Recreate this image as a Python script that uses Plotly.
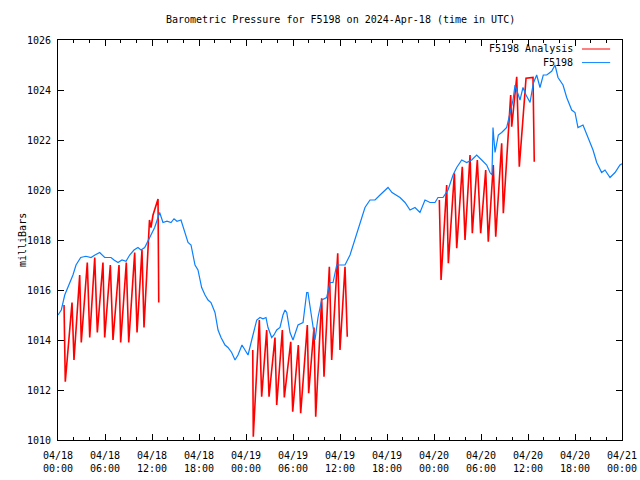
import plotly.graph_objects as go

# ---- data (hours since 2024-04-18 00:00 UTC) ----
blue_hours = [0.00, 0.42, 0.86, 1.28, 1.91, 2.30, 2.90, 3.57, 4.21, 4.72, 5.32, 5.96, 6.77, 7.15, 7.66,
              8.17, 8.68, 9.15, 9.70, 10.21, 10.60, 11.07, 11.71, 12.34, 12.98, 13.40, 13.91, 14.43,
              14.81, 15.19, 15.70, 16.09, 16.60, 16.98, 17.49, 17.87, 18.34, 18.77, 19.15, 19.53,
              20.04, 20.43, 20.81, 21.32, 21.70, 22.17, 22.60, 22.98, 23.49, 23.87, 24.26, 24.73,
              25.02, 25.37, 25.79, 26.17, 26.55, 26.81, 27.28, 27.57, 27.92, 28.34, 28.72, 28.98,
              29.20, 29.62, 30.00, 30.32, 30.64, 31.28, 31.75, 31.91, 32.39, 32.81, 33.19, 33.66,
              34.30, 34.72, 35.11, 35.58, 36.13, 36.64, 37.28, 37.91, 38.55, 39.19, 39.83, 40.47,
              41.11, 41.74, 42.13, 42.64, 43.15, 43.66, 44.30, 44.94, 45.57, 46.21, 46.85, 47.49,
              48.13, 48.51, 49.15, 49.79, 50.43, 50.90, 51.54, 52.17, 52.81, 53.45, 54.09, 54.73,
              55.15, 55.40, 55.53, 55.79, 56.21, 56.64, 57.28, 57.70, 58.09, 58.34, 58.56, 58.98,
              59.36, 59.75, 60.26, 60.68, 61.11, 61.53, 61.95, 62.39, 63.02, 63.45, 63.83, 64.47,
              64.94, 65.58, 66.00, 66.38, 67.02, 67.66, 68.30, 68.77, 69.40, 69.83, 70.47, 71.11,
              71.49, 71.74, 72.00]
blue_mb = [1015.0, 1015.2, 1015.8, 1016.1, 1016.6, 1017.0, 1017.3, 1017.35, 1017.3, 1017.4, 1017.5,
           1017.3, 1017.3, 1017.2, 1017.1, 1017.2, 1017.15, 1017.4, 1017.6, 1017.7, 1017.6, 1017.7,
           1018.1, 1018.5, 1019.1, 1018.7, 1018.75, 1018.7, 1018.85, 1018.75, 1018.8, 1018.4, 1017.9,
           1017.8, 1017.0, 1016.8, 1016.1, 1015.8, 1015.6, 1015.5, 1015.1, 1014.4, 1014.1, 1013.8,
           1013.7, 1013.5, 1013.2, 1013.4, 1013.8, 1013.6, 1013.4, 1014.0, 1014.4, 1014.8, 1014.9,
           1014.85, 1014.9, 1014.5, 1014.1, 1014.2, 1014.4, 1014.5, 1015.0, 1015.2, 1015.1, 1014.3,
           1014.0, 1014.3, 1014.6, 1014.7, 1015.9, 1015.9, 1014.9, 1014.0, 1014.9, 1015.6, 1015.7,
           1016.3, 1016.3, 1017.0, 1017.0, 1017.0, 1017.4, 1018.0, 1018.7, 1019.3, 1019.6, 1019.6,
           1019.8, 1020.0, 1020.1, 1019.9, 1019.8, 1019.7, 1019.5, 1019.2, 1019.3, 1019.1, 1019.6,
           1019.5, 1019.5, 1019.7, 1019.7, 1020.0, 1020.6, 1020.9, 1021.2, 1021.1, 1021.2, 1021.4,
           1021.2, 1021.0, 1020.7, 1020.6, 1022.5, 1021.5, 1022.2, 1022.3, 1022.5, 1023.1, 1023.6,
           1024.2, 1024.0, 1023.6, 1024.1, 1023.8, 1023.5, 1024.27, 1024.6, 1024.1, 1024.6, 1024.6,
           1024.75, 1025.0, 1024.5, 1024.2, 1023.7, 1023.2, 1023.1, 1022.5, 1022.6, 1022.1, 1021.6,
           1021.1, 1020.7, 1020.8, 1020.5, 1020.7, 1020.9, 1021.0, 1021.05]

red_hours_day1 = [0.77, 0.93, 1.79, 2.04, 2.77, 2.97, 3.74, 4.05, 4.69, 5.02, 5.74, 5.96, 6.68, 7.02,
                  7.79, 8.00, 8.72, 9.03, 9.79, 10.09, 10.72, 10.98, 11.68, 11.87, 12.13, 12.51,
                  12.77, 12.86]
red_mb_day1 = [1015.4, 1012.33, 1015.5, 1013.2, 1016.6, 1013.9, 1017.1, 1014.1, 1017.3, 1014.3,
               1017.1, 1014.1, 1017.0, 1014.0, 1017.0, 1013.9, 1017.1, 1013.9, 1017.5, 1014.3,
               1017.6, 1014.5, 1018.8, 1018.5, 1019.0, 1019.4, 1019.64, 1015.5]
red_hours_day2 = [24.86, 24.93, 25.70, 26.00, 26.64, 26.94, 27.70, 27.92, 28.64, 28.89, 29.71, 29.96,
                  30.68, 30.98, 31.83, 32.00, 32.68, 32.90, 33.66, 33.96, 34.64, 34.94, 35.71,
                  36.00, 36.64, 36.93]
red_mb_day2 = [1013.6, 1010.13, 1014.8, 1011.73, 1014.4, 1011.73, 1014.1, 1011.4, 1014.4, 1011.7,
               1013.93, 1011.13, 1013.8, 1011.07, 1014.6, 1011.87, 1014.5, 1010.93, 1015.67,
               1012.53, 1016.93, 1013.2, 1017.47, 1013.6, 1016.93, 1014.13]
red_hours_day3 = [48.68, 48.90, 49.62, 49.83, 50.60, 50.90, 51.61, 51.96, 52.60, 52.89, 53.53, 53.96,
                  54.60, 54.93, 55.57, 55.88, 56.64, 56.85, 57.79, 57.92, 58.56, 58.89, 59.75,
                  60.64, 60.80]
red_mb_day3 = [1019.6, 1016.4, 1020.2, 1017.07, 1020.67, 1017.67, 1020.93, 1018.0, 1021.4, 1018.27,
               1021.2, 1018.27, 1020.8, 1017.93, 1021.0, 1018.13, 1021.87, 1019.07, 1023.8,
               1022.53, 1024.53, 1020.93, 1024.47, 1024.5, 1021.13]

tick_hours = [0, 6, 12, 18, 24, 30, 36, 42, 48, 54, 60, 66, 72]
tick_labels = ["04/18<br>00:00", "04/18<br>06:00", "04/18<br>12:00", "04/18<br>18:00",
               "04/19<br>00:00", "04/19<br>06:00", "04/19<br>12:00", "04/19<br>18:00",
               "04/20<br>00:00", "04/20<br>06:00", "04/20<br>12:00", "04/20<br>18:00",
               "04/21<br>00:00"]
y_ticks = [1010, 1012, 1014, 1016, 1018, 1020, 1022, 1024, 1026]

RED = "#ff0000"
BLUE = "#0a80ff"
FONT = "DejaVu Sans Mono"

red_hours = red_hours_day1 + [None] + red_hours_day2 + [None] + red_hours_day3
red_mb = red_mb_day1 + [None] + red_mb_day2 + [None] + red_mb_day3

fig = go.Figure()
fig.add_trace(go.Scatter(x=red_hours, y=red_mb, mode="lines", name="F5198 Analysis",
                         line=dict(color=RED, width=1.6), connectgaps=False))
fig.add_trace(go.Scatter(x=blue_hours, y=blue_mb, mode="lines", name="F5198",
                         line=dict(color=BLUE, width=1.2)))

# legend drawn gnuplot-style (text right-aligned, sample to the right)
for i, (name, col) in enumerate([("F5198 Analysis", RED), ("F5198", BLUE)]):
    yp = 0.9775 - i * 0.034
    fig.add_annotation(x=0.917, y=yp, xref="paper", yref="paper", text=name, showarrow=False,
                       xanchor="right", yanchor="middle", font=dict(family=FONT, size=10, color="black"))
    fig.add_shape(type="line", xref="paper", yref="paper", x0=0.929, x1=0.979, y0=yp, y1=yp,
                  line=dict(color=col, width=1))

# title and y-axis label
fig.add_annotation(x=0.5, y=1.05, xref="paper", yref="paper", showarrow=False,
                   text="Barometric Pressure for F5198 on 2024-Apr-18 (time in UTC)",
                   xanchor="center", yanchor="middle", font=dict(family=FONT, size=10, color="black"))
fig.add_annotation(x=-0.0638, y=0.5, xref="paper", yref="paper", showarrow=False, text="milliBars",
                   textangle=-90, xanchor="center", yanchor="middle",
                   font=dict(family=FONT, size=10, color="black"))

fig.update_layout(
    width=640, height=480,
    margin=dict(l=58, r=18, t=40, b=40, autoexpand=False),
    paper_bgcolor="white", plot_bgcolor="white",
    showlegend=False,
    font=dict(family=FONT, size=10, color="black"),
)
fig.update_xaxes(range=[0, 72], tickvals=tick_hours, ticktext=tick_labels, automargin=False,
                 showgrid=False, zeroline=False, showline=True, linecolor="black", linewidth=1,
                 mirror="ticks", ticks="inside", ticklen=6, tickcolor="black", ticklabelstandoff=6,
                 minor=dict(dtick=2, ticks="inside", ticklen=3, tickcolor="black"),
                 tickfont=dict(family=FONT, size=10))
fig.update_yaxes(range=[1010, 1026], tickvals=y_ticks, automargin=False,
                 showgrid=False, zeroline=False, showline=True, linecolor="black", linewidth=1,
                 mirror="ticks", ticks="inside", ticklen=6, tickcolor="black", ticklabelstandoff=4,
                 tickfont=dict(family=FONT, size=10))

# remove the browser's default page margin so the 640x480 figure fills the window
fig.write_html("out.html", config={"displayModeBar": False},
               post_script="document.body.style.margin='0';document.body.style.overflow='hidden';")
